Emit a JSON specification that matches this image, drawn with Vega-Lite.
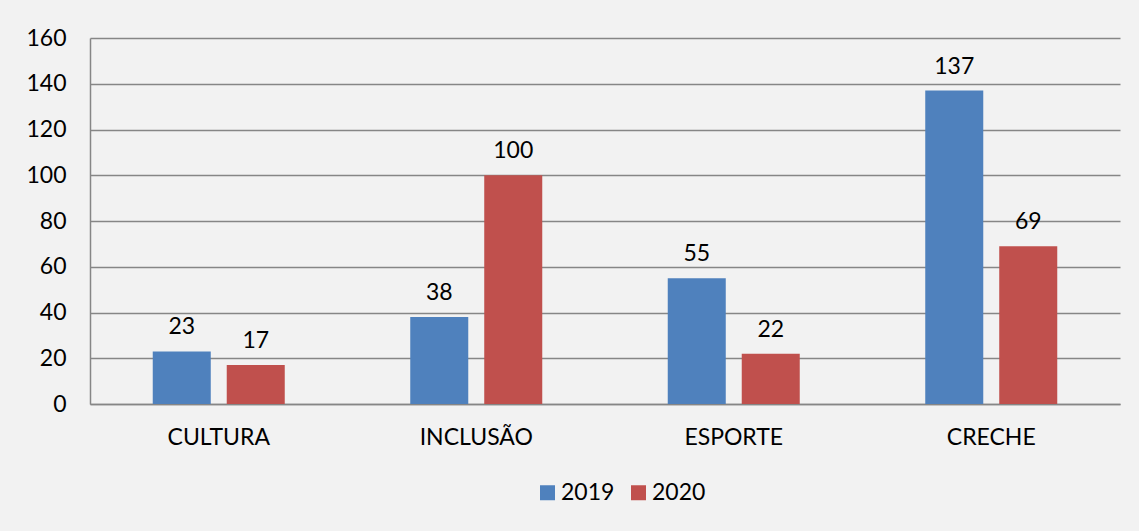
{
  "$schema": "https://vega.github.io/schema/vega-lite/v6.json",
  "width": 1030,
  "height": 366,
  "autosize": {"type": "none"},
  "padding": {"left": 90, "top": 38, "right": 19, "bottom": 127},
  "background": "#f2f2f2",
  "config": {
    "view": {"stroke": null},
    "font": "Lato",
    "axis": {"labelFont": "Lato", "labelColor": "#000000", "labelFontSize": 23},
    "legend": {"labelFont": "Lato", "labelFontSize": 23, "labelColor": "#000000"}
  },
  "data": {
    "values": [
      {"categoria": "CULTURA", "ano": "2019", "valor": 23},
      {"categoria": "CULTURA", "ano": "2020", "valor": 17},
      {"categoria": "INCLUSÃO", "ano": "2019", "valor": 38},
      {"categoria": "INCLUSÃO", "ano": "2020", "valor": 100},
      {"categoria": "ESPORTE", "ano": "2019", "valor": 55},
      {"categoria": "ESPORTE", "ano": "2020", "valor": 22},
      {"categoria": "CRECHE", "ano": "2019", "valor": 137},
      {"categoria": "CRECHE", "ano": "2020", "valor": 69}
    ]
  },
  "encoding": {
    "x": {
      "field": "categoria",
      "type": "nominal",
      "sort": ["CULTURA", "INCLUSÃO", "ESPORTE", "CRECHE"],
      "scale": {"paddingInner": 0, "paddingOuter": 0},
      "axis": {
        "title": null,
        "labelAngle": 0,
        "ticks": false,
        "labelPadding": 22,
        "domainColor": "#868686",
        "domainWidth": 1.5
      }
    },
    "xOffset": {
      "field": "ano",
      "type": "nominal",
      "scale": {"paddingInner": 0.216, "paddingOuter": 0.848}
    },
    "y": {
      "field": "valor",
      "type": "quantitative",
      "scale": {"domain": [0, 160], "nice": false},
      "axis": {
        "title": null,
        "values": [0, 20, 40, 60, 80, 100, 120, 140, 160],
        "ticks": false,
        "labelPadding": 24,
        "gridColor": "#868686",
        "gridWidth": 1.5,
        "domainColor": "#868686",
        "domainWidth": 1.5
      }
    }
  },
  "layer": [
    {
      "mark": {"type": "bar"},
      "encoding": {
        "color": {
          "field": "ano",
          "type": "nominal",
          "scale": {"domain": ["2019", "2020"], "range": ["#4f81bd", "#c0504d"]},
          "legend": {
            "title": null,
            "orient": "none",
            "direction": "horizontal",
            "legendX": 446,
            "legendY": 443,
            "symbolType": "square",
            "symbolSize": 225,
            "symbolStrokeWidth": 0,
            "columnPadding": 12,
            "labelOffset": 2
          }
        }
      }
    },
    {
      "mark": {"type": "text", "dy": -24, "fontSize": 23, "font": "Lato", "color": "#000000"},
      "encoding": {"text": {"field": "valor", "type": "quantitative"}}
    }
  ]
}
